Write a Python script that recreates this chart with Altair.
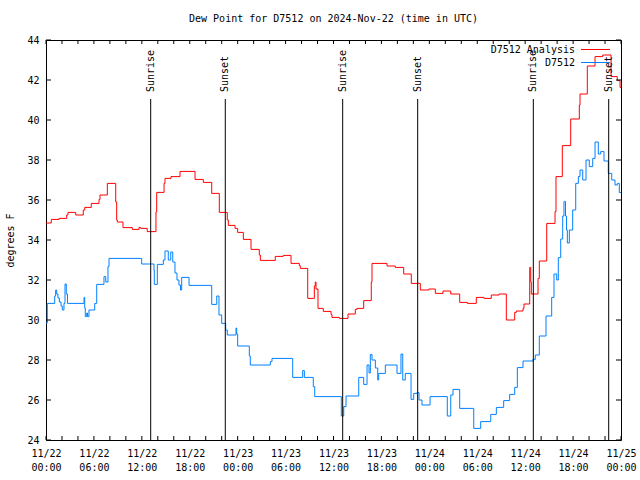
import json
import altair as alt
import pandas as pd

FONT = "DejaVu Sans Mono"

# Hours since 2024-11-22 00:00 UTC and dew point (deg F)
red_hours = [0, 0.66, 1.63, 2.59, 2.75, 3.72, 4.67, 4.85, 5.67, 6.64, 6.76, 7.68, 8.73, 8.85, 8.93,
             9.64, 10.81, 11.65, 11.86, 12.68, 13.77, 13.86, 14.78, 14.90, 15.65, 16.78, 18.66, 19.70,
             20.75, 21.70, 22.70, 22.83, 23.67, 24.00, 24.71, 25.67, 26.71, 26.84, 28.71, 29.71, 30.68,
             31.72, 31.84, 32.77, 33.60, 33.72, 33.81, 34.06, 34.72, 35.69, 35.81, 36.73, 37.82, 38.73,
             38.94, 39.78, 40.73, 40.82, 42.70, 43.74, 44.79, 45.74, 46.87, 47.92, 48.75, 49.71, 50.68,
             51.80, 52.76, 53.88, 54.85, 55.76, 56.72, 57.64, 58.69, 58.89, 59.73, 59.85, 60.57, 60.70,
             60.77, 61.61, 61.77, 62.70, 63.74, 63.86, 64.65, 65.70, 66.78, 66.87, 67.78, 68.75, 69.71,
             70.75, 71.54, 71.88, 72.0]
red_values = [34.85, 35.03, 35.08, 35.25, 35.38, 35.25, 35.5, 35.63, 35.83, 36.03, 36.25, 36.83, 35.9,
              35.0, 34.9, 34.62, 34.53, 34.63, 34.58, 34.42, 35.4, 36.38, 36.83, 37.08, 37.17, 37.43,
              37.03, 36.88, 36.33, 35.38, 35.0, 34.73, 34.58, 34.38, 34.03, 33.53, 33.25, 32.98, 33.18,
              33.23, 32.83, 32.72, 32.58, 31.08, 31.7, 31.9, 31.55, 30.58, 30.43, 30.28, 30.13, 30.08,
              30.3, 30.53, 30.58, 30.97, 31.9, 32.83, 32.7, 32.63, 32.3, 31.83, 31.5, 31.55, 31.33,
              31.45, 31.3, 30.88, 30.83, 31.13, 31.08, 31.25, 31.3, 30.0, 30.38, 30.45, 30.58, 30.8,
              32.63, 31.9, 31.3, 32.08, 32.95, 34.83, 35.42, 37.17, 38.72, 40.05, 40.75, 41.3, 42.7,
              43.17, 43.25, 42.17, 41.97, 41.63, 41.63]

blue_hours = [0, 0.16, 1.09, 1.21, 1.34, 1.50, 1.67, 1.88, 2.04, 2.25, 2.38, 2.54, 2.69, 4.76, 4.85,
              4.92, 5.10, 5.20, 5.38, 6.10, 6.35, 7.26, 7.48, 7.76, 7.89, 11.98, 13.52, 13.56, 13.94,
              14.69, 14.90, 15.31, 15.62, 15.87, 16.15, 16.40, 16.65, 16.84, 16.99, 17.91, 20.75, 21.38,
              21.66, 22.00, 22.50, 22.70, 23.79, 23.88, 24.00, 25.46, 25.58, 28.09, 28.30, 30.89, 32.14,
              32.35, 33.47, 33.65, 36.98, 37.28, 37.57, 39.16, 39.78, 40.20, 40.45, 40.61, 40.82, 41.24,
              41.54, 41.66, 42.49, 43.95, 44.45, 44.67, 44.99, 45.71, 46.04, 46.46, 46.71, 47.08, 48.09,
              50.25, 50.68, 50.96, 51.80, 53.56, 54.43, 55.69, 56.39, 57.31, 58.06, 58.69, 59.02, 59.73,
              60.98, 61.27, 61.77, 62.61, 63.32, 63.61, 63.95, 64.15, 64.45, 64.70, 64.86, 65.05, 65.18,
              65.28, 65.53, 65.95, 66.33, 66.66, 66.87, 67.21, 67.62, 68.03, 68.46, 68.75, 69.16, 69.46,
              69.87, 70.41, 70.84, 71.25, 71.54, 71.79, 72.0]
blue_values = [29.85, 30.83, 31.2, 31.5, 31.3, 31.1, 30.9, 30.7, 30.5, 30.83, 31.8, 31.3, 30.83, 31.13,
               30.6, 30.17, 30.35, 30.17, 30.5, 30.83, 31.78, 32.17, 31.9, 32.67, 33.08, 32.8, 32.5,
               31.78, 32.78, 33.0, 33.45, 33.0, 33.4, 32.9, 32.35, 32.0, 31.75, 31.5, 32.13, 31.73, 30.78,
               31.2, 30.25, 29.83, 29.5, 29.25, 29.6, 29.3, 28.7, 28.2, 27.75, 27.92, 28.08, 27.13, 27.47,
               27.13, 26.67, 26.17, 25.2, 25.67, 26.2, 27.13, 26.78, 27.75, 27.35, 28.28, 28.0, 27.6,
               27.0, 27.33, 27.75, 27.33, 28.3, 27.0, 27.33, 26.03, 26.33, 26.37, 26.0, 25.75, 26.17,
               25.2, 26.25, 26.53, 25.58, 24.58, 24.92, 25.28, 25.63, 25.97, 26.28, 26.63, 27.62, 27.95,
               28.03, 28.25, 29.2, 30.2, 31.13, 32.3, 32.0, 33.12, 34.05, 35.2, 35.92, 35.2, 34.5, 33.85,
               34.5, 35.5, 36.83, 37.17, 37.5, 37.0, 38.0, 37.67, 38.08, 38.9, 38.3, 38.42, 37.95, 37.33,
               37.0, 36.75, 36.83, 36.37, 36.37]

sun_hours = [13.11, 22.45, 37.15, 46.54, 61.02, 70.46]
sun_labels = ["Sunrise", "Sunset", "Sunrise", "Sunset", "Sunrise", "Sunset"]

y_ticks = [24, 26, 28, 30, 32, 34, 36, 38, 40, 42, 44]
x_major = [0, 6, 12, 18, 24, 30, 36, 42, 48, 54, 60, 66, 72]
x_day_labels = ["11/22", "11/22", "11/22", "11/22", "11/23", "11/23", "11/23", "11/23",
                "11/24", "11/24", "11/24", "11/24", "11/25"]
x_time_labels = ["00:00", "06:00", "12:00", "18:00", "00:00", "06:00", "12:00", "18:00",
                 "00:00", "06:00", "12:00", "18:00", "00:00"]
x_minor = [0, 2, 4, 6, 8, 10, 12, 14, 16, 18, 20, 22, 24, 26, 28, 30, 32, 34, 36, 38, 40, 42, 44,
           46, 48, 50, 52, 54, 56, 58, 60, 62, 64, 66, 68, 70, 72]

W, H = 575, 400
RED = "#ff0000"
BLUE = "#0080ff"

red_df = pd.DataFrame({"hour": red_hours, "value": red_values})
blue_df = pd.DataFrame({"hour": blue_hours, "value": blue_values})
sun_df = pd.DataFrame({"hour": sun_hours, "label": sun_labels})
yt_df = pd.DataFrame({"value": y_ticks})
xt_df = pd.DataFrame({"hour": x_minor})

label_table = json.dumps([[d, t] for d, t in zip(x_day_labels, x_time_labels)])
label_expr = label_table + "[round(datum.value / 6)]"

x_scale = alt.Scale(domain=[0, 72], nice=False, zero=False)
y_scale = alt.Scale(domain=[24, 44], nice=False, zero=False)

x_axis = alt.Axis(values=x_major, labelExpr=label_expr, tickSize=0, domain=False, grid=False,
                  title=None, labelFont=FONT, labelFontSize=10, labelColor="black",
                  labelPadding=8, labelBaseline="top", labelLineHeight=14, labelAngle=0,
                  labelAlign="center", labelOverlap=False, labelFlush=False)
y_axis = alt.Axis(values=y_ticks, tickSize=0, domain=False, grid=False, labelFont=FONT,
                  labelFontSize=10, labelColor="black", labelPadding=7, labelBaseline="middle",
                  title="degrees F", titleFont=FONT, titleFontSize=10, titleFontWeight="normal",
                  titleColor="black", titleAngle=270, titleX=-36, titleY=200,
                  titleAlign="center", titleBaseline="middle")

XE = alt.X("hour:Q", scale=x_scale, axis=x_axis)
YE = alt.Y("value:Q", scale=y_scale, axis=y_axis)

red_line = alt.Chart(red_df).mark_line(interpolate="step-after", color=RED, strokeWidth=1,
                                       clip=True).encode(x=XE, y=YE)
blue_line = alt.Chart(blue_df).mark_line(interpolate="step-after", color=BLUE, strokeWidth=1,
                                         clip=True).encode(x=XE, y=YE)

sun_rules = alt.Chart(sun_df).mark_rule(color="black", strokeWidth=1).encode(
    x=XE, y=alt.value(59), y2=alt.value(H),
)
sun_text = alt.Chart(sun_df).mark_text(angle=270, align="left", baseline="middle", font=FONT,
                                       fontSize=10, color="black").encode(
    x=XE, y=alt.value(52), text="label:N",
)

tick_left = alt.Chart(yt_df).mark_rule(color="black").encode(
    y=YE, x=alt.value(0), x2=alt.value(5))
tick_right = alt.Chart(yt_df).mark_rule(color="black").encode(
    y=YE, x=alt.value(W), x2=alt.value(W - 5))
tick_bottom = alt.Chart(xt_df).mark_rule(color="black").encode(
    x=XE, y=alt.value(H), y2=alt.value(H - 4))
tick_top = alt.Chart(xt_df).mark_rule(color="black").encode(
    x=XE, y=alt.value(0), y2=alt.value(4))

legend_text1 = alt.Chart(red_df.head(1)).mark_text(align="right", baseline="middle", font=FONT,
                                                   fontSize=10, color="black",
                                                   text="D7512 Analysis").encode(
    x=alt.value(529), y=alt.value(10))
legend_text2 = alt.Chart(red_df.head(1)).mark_text(align="right", baseline="middle", font=FONT,
                                                   fontSize=10, color="black",
                                                   text="D7512").encode(
    x=alt.value(529), y=alt.value(23))
legend_line1 = alt.Chart(red_df.head(1)).mark_rule(color=RED, strokeWidth=1).encode(
    x=alt.value(535), x2=alt.value(564), y=alt.value(9.5))
legend_line2 = alt.Chart(red_df.head(1)).mark_rule(color=BLUE, strokeWidth=1).encode(
    x=alt.value(535), x2=alt.value(564), y=alt.value(22.5))

chart = alt.layer(
    red_line, blue_line, sun_rules, sun_text,
    tick_left, tick_right, tick_bottom, tick_top,
    legend_line1, legend_line2, legend_text1, legend_text2,
).properties(
    width=W, height=H,
    padding={"left": 46, "top": 40, "right": 19, "bottom": 40},
    autosize=alt.AutoSizeParams(type="none"),
    title=alt.TitleParams(text="Dew Point for D7512 on 2024-Nov-22 (time in UTC)", font=FONT,
                          fontSize=10, fontWeight="normal", color="black", anchor="middle",
                          frame="group", offset=11),
    background="white",
).configure_view(stroke="black", strokeWidth=1)

chart.save("out.html", embed_options={"renderer": "svg", "actions": False})
